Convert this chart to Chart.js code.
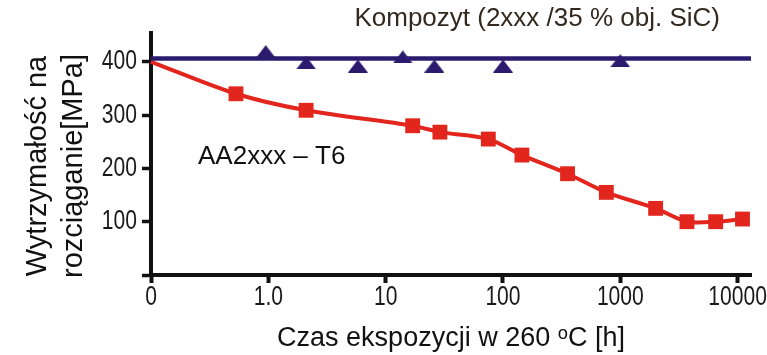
<!DOCTYPE html>
<html>
<head>
<meta charset="utf-8">
<script src="https://cdn.jsdelivr.net/npm/chart.js@4.4.0/dist/chart.umd.min.js"></script>
<style>
  html, body { margin: 0; padding: 0; background: #fff; }
  #wrap { width: 767px; height: 355px; }
</style>
</head>
<body>
<div id="wrap"><canvas id="chart"></canvas></div>
<script>
// x axis is logarithmic in hours, "0" sits one decade left of 1.0
const TICK_HOURS = [0, 1, 10, 100, 1000, 10000];
const TICK_LABELS = ["0", "1.0", "10", "100", "1000", "10000"];
const Y_TICKS = [0, 100, 200, 300, 400];

// AA2xxx - T6
const ALLOY_HOURS = [0, 0.53, 2.1, 17, 29, 75, 145, 355, 760, 2000, 3700, 6500, 11000];
const ALLOY_MPA = [400, 340, 309, 280, 268, 255, 225, 190, 155, 125, 100, 100, 105];

// Kompozyt (2xxx / 35% SiC)
const COMP_HOURS = [0.95, 2.1, 5.8, 14, 26, 100, 1000];
const COMP_MPA = [419, 398, 392, 409, 392, 392, 402];
const COMP_LINE_HOURS = [0, 13000];
const COMP_LINE_MPA = [406, 406];

const RED = "#e2261e";
const BLUE = "#2b1b6e";
const TEXT = "'Liberation Sans', Arial, sans-serif";

const pos = (h) => (h > 0 ? Math.log10(h) + 1 : 0);
const toPoints = (hours, vals) => hours.map((h, i) => ({ x: pos(h), y: vals[i] }));

function makeTriangle(w, h, color) {
  const c = document.createElement("canvas");
  c.width = w;
  c.height = h;
  const g = c.getContext("2d");
  g.fillStyle = color;
  g.beginPath();
  g.moveTo(w / 2, 0);
  g.lineTo(w, h);
  g.lineTo(0, h);
  g.closePath();
  g.fill();
  return c;
}

// tick labels in the original are a narrow face, squeeze Liberation Sans
function narrowText(ctx, text, x, y, align) {
  ctx.save();
  ctx.translate(x, y);
  ctx.scale(0.78, 1);
  ctx.textAlign = align;
  ctx.fillText(text, 0, 0);
  ctx.restore();
}

const labelsPlugin = {
  id: "labels",
  afterDraw(chart) {
    const { ctx, chartArea, scales } = chart;
    ctx.save();
    ctx.textBaseline = "middle";

    // tick labels
    ctx.font = "27px " + TEXT;
    ctx.fillStyle = "#1a1a1a";
    Y_TICKS.forEach((v) => {
      if (v === 0) return;
      narrowText(ctx, String(v), chartArea.left - 14, scales.y.getPixelForValue(v), "right");
    });
    TICK_HOURS.forEach((h, i) => {
      narrowText(ctx, TICK_LABELS[i], scales.x.getPixelForValue(pos(h)), chartArea.bottom + 23, "center");
    });

    // y title, two lines
    ctx.save();
    ctx.translate(0, (chartArea.top + chartArea.bottom) / 2 + 12);
    ctx.rotate(-Math.PI / 2);
    ctx.font = "29px " + TEXT;
    ctx.fillStyle = "#111";
    ctx.textAlign = "center";
    ctx.fillText("Wytrzyma\u0142o\u015B\u0107 na", 0, 37.5);
    ctx.fillText("rozci\u0105ganie[MPa]", 0, 74);
    ctx.restore();

    ctx.font = "26px " + TEXT;
    ctx.fillStyle = "#33291f";
    ctx.textAlign = "right";
    ctx.fillText("Kompozyt (2xxx /35 % obj. SiC)", chartArea.right - 31, 19);

    ctx.font = "26px " + TEXT;
    ctx.fillStyle = "#111";
    ctx.textAlign = "left";
    ctx.fillText("AA2xxx \u2013 T6", chartArea.left + 47, 157);
    ctx.restore();
  },
};

new Chart(document.getElementById("chart"), {
  type: "scatter",
  data: {
    datasets: [
      {
        label: "Kompozyt",
        data: toPoints(COMP_LINE_HOURS, COMP_LINE_MPA),
        showLine: true,
        borderColor: BLUE,
        borderWidth: 4.5,
        pointRadius: 0,
        order: 0,
      },
      {
        label: "Kompozyt punkty",
        data: toPoints(COMP_HOURS, COMP_MPA),
        showLine: false,
        pointStyle: makeTriangle(20, 13, BLUE),
        order: 1,
      },
      {
        label: "AA2xxx - T6",
        data: toPoints(ALLOY_HOURS, ALLOY_MPA),
        showLine: true,
        tension: 0.3,
        borderColor: RED,
        borderWidth: 4,
        pointStyle: "rect",
        pointRadius: ALLOY_HOURS.map((h) => (h > 0 ? 10.5 : 0)),
        backgroundColor: RED,
        pointBorderWidth: 0,
        order: 2,
      },
    ],
  },
  options: {
    responsive: true,
    maintainAspectRatio: false,
    animation: false,
    clip: false,
    layout: { padding: { top: 33, right: 16, left: 0, bottom: 0 } },
    plugins: {
      legend: { display: false },
      tooltip: { enabled: false },
    },
    scales: {
      x: {
        type: "linear",
        min: 0,
        max: pos(13000),
        afterBuildTicks: (s) => {
          s.ticks = TICK_HOURS.map((h) => ({ value: pos(h) }));
        },
        afterFit: (s) => {
          s.height = 80;
          s.paddingLeft = 0;
          s.paddingRight = 0;
        },
        border: { color: "#111", width: 4 },
        grid: { drawOnChartArea: false, tickLength: 8, tickWidth: 4, tickColor: "#111" },
        ticks: { display: false },
        title: {
          display: true,
          text: "Czas ekspozycji w 260 \u1D52C [h]",
          color: "#111",
          font: { size: 27, family: TEXT, lineHeight: 1.2 },
          padding: { top: 0, bottom: 0 },
        },
      },
      y: {
        min: 0,
        max: 454,
        afterBuildTicks: (s) => {
          s.ticks = Y_TICKS.map((v) => ({ value: v }));
        },
        afterFit: (s) => {
          s.width = 151;
        },
        border: { color: "#111", width: 4 },
        grid: { drawOnChartArea: false, tickLength: 9, tickWidth: 3.5, tickColor: "#111" },
        ticks: { display: false },
      },
    },
  },
  plugins: [labelsPlugin],
});
</script>
</body>
</html>
